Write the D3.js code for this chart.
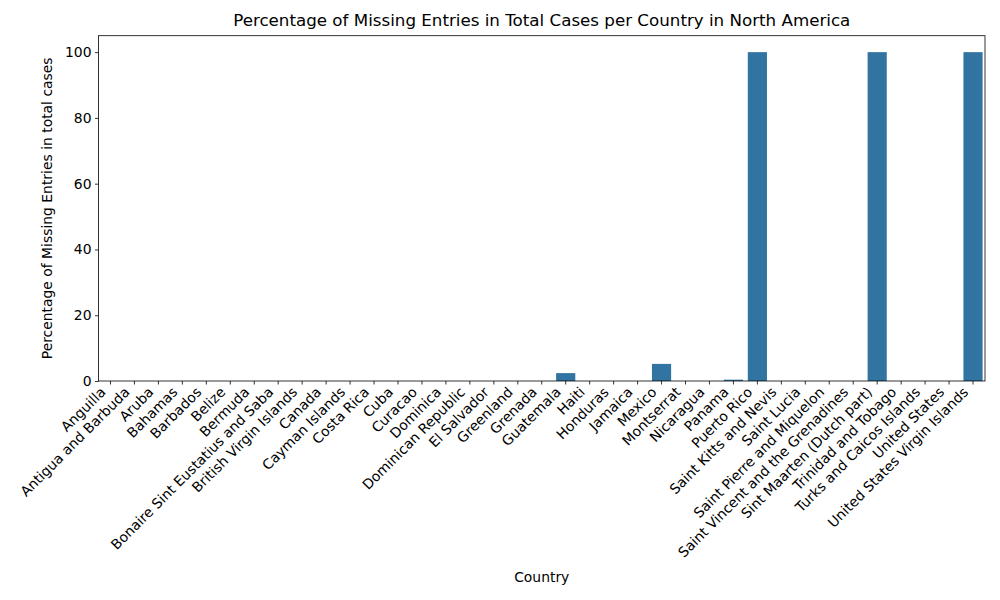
<!DOCTYPE html>
<html>
<head>
<meta charset="utf-8">
<script src="https://cdn.jsdelivr.net/npm/d3@7"></script>
<style>
  body { margin: 0; background: #fff; }
  text { font-family: "DejaVu Sans", sans-serif; fill: #000; }
</style>
</head>
<body>
<div id="chart"></div>
<script>
var countries = [
    "Anguilla", "Antigua and Barbuda", "Aruba", "Bahamas", "Barbados", "Belize",
    "Bermuda", "Bonaire Sint Eustatius and Saba", "British Virgin Islands", "Canada",
    "Cayman Islands", "Costa Rica", "Cuba", "Curacao", "Dominica", "Dominican Republic",
    "El Salvador", "Greenland", "Grenada", "Guatemala", "Haiti", "Honduras", "Jamaica",
    "Mexico", "Montserrat", "Nicaragua", "Panama", "Puerto Rico", "Saint Kitts and Nevis",
    "Saint Lucia", "Saint Pierre and Miquelon", "Saint Vincent and the Grenadines",
    "Sint Maarten (Dutch part)", "Trinidad and Tobago", "Turks and Caicos Islands",
    "United States", "United States Virgin Islands"
];
var missingPct = [
    0, 0, 0, 0, 0, 0,
    0, 0, 0, 0,
    0, 0, 0, 0, 0, 0,
    0, 0, 0, 2.4, 0, 0, 0,
    5.2, 0, 0, 0.4, 100, 0,
    0, 0, 0,
    100, 0, 0,
    0, 100
];
var yTicks = [0, 20, 40, 60, 80, 100];

var width = 1000, height = 600;
var margin = { top: 35.7, right: 15, bottom: 219, left: 98.5 };
var plotW = width - margin.left - margin.right;
var plotH = height - margin.top - margin.bottom;

var svg = d3.select("#chart").append("svg")
    .attr("width", width)
    .attr("height", height);

var g = svg.append("g")
    .attr("transform", `translate(${margin.left},${margin.top})`);

var x = d3.scaleBand()
    .domain(countries)
    .range([0, plotW])
    .paddingInner(0.2)
    .paddingOuter(0.1);

var y = d3.scaleLinear()
    .domain([0, 105])
    .range([plotH, 0]);

var data = countries.map(function(c, i) { return { country: c, value: missingPct[i] }; });

// bars
g.selectAll(".bar")
    .data(data)
    .enter().append("rect")
    .attr("class", "bar")
    .attr("x", d => x(d.country))
    .attr("y", d => y(d.value))
    .attr("width", x.bandwidth())
    .attr("height", d => plotH - y(d.value))
    .style("fill", "#3274a1");

// y axis
var yAxis = g.append("g")
    .call(d3.axisLeft(y).tickValues(yTicks).tickSize(3.5).tickPadding(3.5));
yAxis.select(".domain").remove();
yAxis.selectAll("line").style("stroke", "#000").style("stroke-width", 0.8);
yAxis.selectAll("text").style("font-size", "13.9px").style("font-family", "DejaVu Sans");

// x axis
var xAxis = g.append("g")
    .attr("transform", `translate(0,${plotH})`)
    .call(d3.axisBottom(x).tickSize(3.5).tickFormat(""));
xAxis.select(".domain").remove();
xAxis.selectAll("line").style("stroke", "#000").style("stroke-width", 0.8);

// rotated tick labels
g.selectAll(".xlabel")
    .data(countries)
    .enter().append("text")
    .attr("class", "xlabel")
    .attr("transform", d => `translate(${x(d) + x.bandwidth() / 2 - 4},${plotH + 12}) rotate(-45)`)
    .attr("text-anchor", "end")
    .style("font-size", "13.9px")
    .text(d => d);

// frame
g.append("rect")
    .attr("width", plotW)
    .attr("height", plotH)
    .style("fill", "none")
    .style("stroke", "#000")
    .style("stroke-width", 0.8);

// title
svg.append("text")
    .attr("x", margin.left + plotW / 2)
    .attr("y", 26)
    .attr("text-anchor", "middle")
    .style("font-size", "16.7px")
    .text("Percentage of Missing Entries in Total Cases per Country in North America");

// axis labels
svg.append("text")
    .attr("x", margin.left + plotW / 2)
    .attr("y", 582)
    .attr("text-anchor", "middle")
    .style("font-size", "13.9px")
    .text("Country");

svg.append("text")
    .attr("transform", `translate(52,${margin.top + plotH / 2}) rotate(-90)`)
    .attr("text-anchor", "middle")
    .style("font-size", "13.9px")
    .text("Percentage of Missing Entries in total cases");
</script>
</body>
</html>
